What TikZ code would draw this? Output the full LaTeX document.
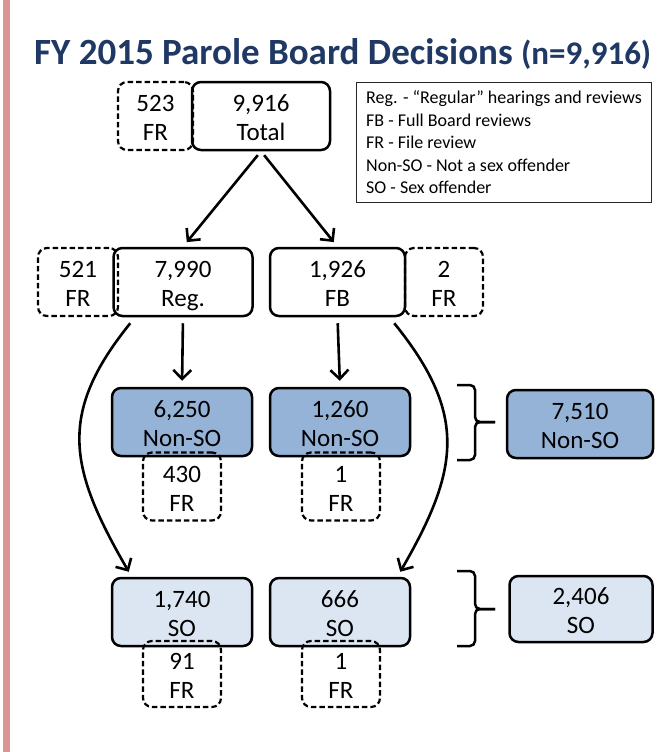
\documentclass[tikz,border=0pt]{standalone}
\usepackage{fontspec}
\setmainfont{Carlito}
\usetikzlibrary{arrows.meta}
\definecolor{titleblue}{RGB}{31,56,100}
\definecolor{nonsofill}{RGB}{149,179,215}
\definecolor{sofill}{RGB}{220,230,242}
\definecolor{barpink}{RGB}{217,150,148}
\tikzset{
  box/.style={draw, rounded corners=9pt, line width=2.5pt, align=center,
    inner sep=0pt, minimum width=138pt, minimum height=68pt,
    text height=54pt, text depth=4.6pt, font=\fontsize{25}{29}\selectfont},
  frbox/.style={box, dash pattern=on 5.5pt off 3pt, line width=2.2pt, minimum width=78pt},
  nonsobox/.style={box, fill=nonsofill},
  sobox/.style={box, fill=sofill},
  arr/.style={line width=2.6pt, -{Straight Barb[length=9pt, width=18pt]}},
  bracket/.style={line width=2.5pt, rounded corners=5pt},
}
\begin{document}
\begin{tikzpicture}[x=1pt, y=1pt]
  \useasboundingbox (0,0) rectangle (670,-752);
  \fill[barpink] (3,0) rectangle (10,-752);
  \node[anchor=base west, inner sep=0pt, text=titleblue, font=\bfseries\fontsize{37}{40}\selectfont]
    (title) at (34,-64) {FY 2015 Parole Board Decisions {\fontsize{33}{33}\selectfont(n=9,916)}};
  % top row
  \node[frbox, minimum width=75pt] (fr0) at (155.5,-116) {523\\FR};
  \node[box] (total) at (261,-116) {9,916\\Total};
  \node[draw=black!85, line width=1pt, anchor=north west, align=left, inner sep=0pt,
    minimum width=295pt, minimum height=120pt, font=\fontsize{18}{22.5}\selectfont]
    (legend) at (356,-82) {Reg. - “Regular” hearings and reviews\\FB - Full Board reviews\\FR - File review\\Non-SO - Not a sex offender\\SO - Sex offender};
  % hearings
  \node[frbox, minimum width=80pt] (fr1) at (78,-282) {521\\FR};
  \node[box, minimum width=139pt] (reg) at (183,-282) {7,990\\Reg.};
  \node[box, minimum width=135pt] (fb) at (337.5,-282) {1,926\\FB};
  \node[frbox] (fr2) at (444,-282) {2\\FR};
  % non sex offenders
  \node[nonsobox, minimum width=140pt] (nonso1) at (182,-422) {6,250\\Non-SO};
  \node[nonsobox, minimum width=140pt] (nonso2) at (340,-422) {1,260\\Non-SO};
  \node[frbox] (fr3) at (182,-486.5) {430\\FR};
  \node[frbox] (fr4) at (341,-486.5) {1\\FR};
  \node[nonsobox, minimum width=146pt] (nonsoall) at (580,-424) {7,510\\Non-SO};
  % sex offenders
  \node[sobox, minimum width=140pt] (so1) at (182,-612) {1,740\\SO};
  \node[sobox, minimum width=140pt] (so2) at (340,-612) {666\\SO};
  \node[frbox, minimum height=66pt] (fr5) at (182,-674) {91\\FR};
  \node[frbox, minimum height=66pt] (fr6) at (341,-674) {1\\FR};
  \node[sobox, minimum width=143pt, minimum height=66pt] (soall) at (581,-609) {2,406\\SO};
  % arrows
  \draw[arr, shorten <=5pt, shorten >=6pt] (total.south) -- (reg.north);
  \draw[arr, shorten <=5pt, shorten >=6pt] (total.south) -- (fb.north);
  \draw[arr, shorten <=6pt, shorten >=6pt] (reg.south) -- (nonso1.north);
  \draw[arr, shorten <=6pt, shorten >=6pt] (fb.south) -- (nonso2.north);
  \draw[arr] ([xshift=18pt, yshift=-6pt]reg.south west) to[out=231, in=120, looseness=1.21] ([xshift=18pt, yshift=5pt]so1.north west);
  \draw[arr] ([xshift=-12pt, yshift=-6pt]fb.south east) to[out=309, in=60, looseness=1.21] ([xshift=-11pt, yshift=5pt]so2.north east);
  % brackets
  \draw[bracket] (457,-385) -- (475,-385) -- (475,-422) -- (495,-422);
  \draw[bracket] (457,-460) -- (475,-460) -- (475,-422) -- (495,-422);
  \draw[bracket] (457,-571) -- (475,-571) -- (475,-609) -- (495,-609);
  \draw[bracket] (457,-646) -- (475,-646) -- (475,-609) -- (495,-609);
\end{tikzpicture}
\end{document}
